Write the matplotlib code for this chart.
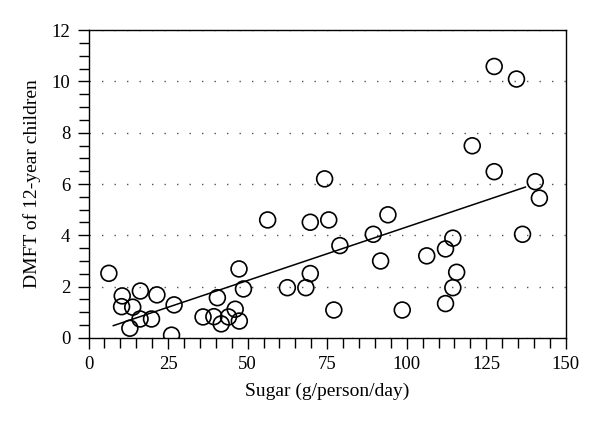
import matplotlib.pyplot as plt
from matplotlib.ticker import MultipleLocator

# Sugar consumption vs DMFT
sugar = [6.4, 10.6, 10.4, 13.9, 16.3, 21.5, 16.2, 19.8, 13.0, 26.9,
         26.1, 36.0, 39.4, 41.7, 44.0, 46.1, 47.4, 40.5, 47.3, 48.7,
         56.3, 74.2, 69.7, 75.5, 94.1, 89.5, 79.0, 91.8, 106.3, 112.2,
         114.5, 115.7, 114.5, 112.2, 62.5, 68.3, 69.7, 77.1, 98.6,
         127.5, 134.5, 120.6, 127.5, 140.4, 141.7, 136.4]
dmft = [2.52, 1.64, 1.22, 1.20, 1.83, 1.68, 0.74, 0.74, 0.38, 1.29,
        0.11, 0.82, 0.83, 0.55, 0.82, 1.12, 0.66, 1.57, 2.69, 1.91,
        4.60, 6.20, 4.51, 4.60, 4.80, 4.04, 3.60, 3.00, 3.20, 3.47,
        3.89, 2.56, 1.96, 1.34, 1.96, 1.96, 2.51, 1.09, 1.09,
        10.58, 10.09, 7.49, 6.48, 6.09, 5.45, 4.04]

# regression line as drawn
fit_x = [7.8, 137.3]
slope, intercept = 0.0417, 0.155

plt.rcParams['font.family'] = ['Liberation Serif', 'DejaVu Serif']

fig = plt.figure(figsize=(6, 4.23), dpi=100)
ax = fig.add_axes([0.1475, 0.201, 0.7955, 0.728])

ax.scatter(sugar, dmft, s=130, facecolors='none', edgecolors='black',
           linewidths=1.2, zorder=3)
ax.plot(fit_x, [slope * x + intercept for x in fit_x], color='black',
        linewidth=1.1, zorder=2)

ax.set_xlim(0, 150)
ax.set_ylim(0, 12)
ax.xaxis.set_major_locator(MultipleLocator(25))
ax.xaxis.set_minor_locator(MultipleLocator(5))
ax.yaxis.set_major_locator(MultipleLocator(2))
ax.yaxis.set_minor_locator(MultipleLocator(0.5))
ax.tick_params(which='both', direction='out', width=1, top=False, right=False,
               labelsize=13.5)
ax.tick_params(which='major', length=8, pad=5)
ax.tick_params(which='minor', length=7)

ax.grid(axis='y', which='major', color='#555555', linewidth=1,
        linestyle=(0, (1, 8)))
for sp in ax.spines.values():
    sp.set_linewidth(1)

ax.set_xlabel('Sugar (g/person/day)', fontsize=14, labelpad=7)
ax.set_ylabel('DMFT of 12-year children', fontsize=14, labelpad=8)

fig.savefig('out.png', dpi=100)
